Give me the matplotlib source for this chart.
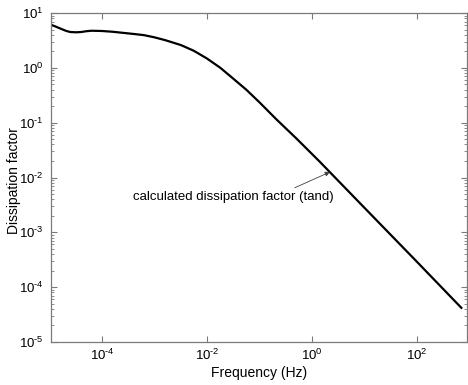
import numpy as np
import matplotlib
matplotlib.use('Agg')
import matplotlib.pyplot as plt
from matplotlib.ticker import LogLocator, NullLocator, NullFormatter, FuncFormatter

plt.rcParams['font.family'] = ['Liberation Sans', 'DejaVu Sans']
plt.rcParams['mathtext.fontset'] = 'custom'
plt.rcParams['mathtext.rm'] = 'Liberation Sans'

# data
freq = [1.07e-5, 1.35e-5, 1.7e-5, 2.1e-5, 2.5e-5, 3.2e-5, 4e-5, 5e-5, 6.3e-5,
        1e-4, 1.6e-4, 2.5e-4, 4e-4, 6.3e-4, 1e-3, 1.6e-3, 3.2e-3,
        5.6e-3, 1e-2, 1.8e-2, 3.2e-2, 5.6e-2, 0.1, 0.21, 0.5,
        1.4, 10, 100, 700]
tand = [6.1, 5.6, 5.1, 4.7, 4.5, 4.45, 4.5, 4.65, 4.75,
        4.7, 4.55, 4.35, 4.15, 3.95, 3.6, 3.2, 2.6,
        2.05, 1.48, 1.0, 0.63, 0.4, 0.235, 0.115, 0.052,
        0.0195, 2.8e-3, 2.9e-4, 4.2e-5]

note = 'calculated dissipation factor (tand)'
note_tip = (2.2, 0.0126)     # arrow tip on the curve
note_tail = (0.47, 6.5e-3)   # arrow start
note_pos = (3.9e-4, 4.4e-3)  # text position

grey = '#7a7a7a'


def sci(v, pos):
    e = int(round(np.log10(v)))
    if e < 0:
        return r'$\mathdefault{10^{\text{-}%d}}$' % (-e)
    return r'$\mathdefault{10^{%d}}$' % e


fig = plt.figure(figsize=(4.68, 3.85), dpi=100)
ax = fig.add_axes([0.109, 0.1117, 0.889, 0.8545])

ax.loglog(freq, tand, color='k', linewidth=1.6)

ax.set_xlim(1.07e-5, 900)
ax.set_ylim(1e-5, 10)

ax.set_xticks([1e-4, 1e-2, 1, 1e2])
ax.xaxis.set_minor_locator(NullLocator())
ax.yaxis.set_major_locator(LogLocator(base=10, numticks=20))
ax.yaxis.set_minor_locator(LogLocator(base=10, subs=np.arange(2, 10), numticks=20))
ax.yaxis.set_minor_formatter(NullFormatter())
ax.xaxis.set_major_formatter(FuncFormatter(sci))
ax.yaxis.set_major_formatter(FuncFormatter(sci))

ax.tick_params(which='both', direction='in', top=True, right=True,
               color=grey, labelsize=9.5)
ax.tick_params(axis='x', pad=4.5)
ax.tick_params(axis='y', pad=5.5)
ax.tick_params(which='major', length=4, width=0.8)
ax.tick_params(which='minor', length=2, width=0.6)
for s in ax.spines.values():
    s.set_color(grey)
    s.set_linewidth(0.9)

ax.set_xlabel('Frequency (Hz)', fontsize=10)
ax.set_ylabel('Dissipation factor', fontsize=10)
ax.xaxis.set_label_coords(0.5, -0.072)
ax.yaxis.set_label_coords(-0.072, 0.49)

ax.text(note_pos[0], note_pos[1], note, fontsize=9.5, ha='left', va='center')
ax.annotate('', xy=note_tip, xytext=note_tail,
            arrowprops=dict(arrowstyle='-|>', color='#404040', lw=0.6,
                            mutation_scale=7, shrinkA=0, shrinkB=0))

fig.savefig('out.png', dpi=100)
